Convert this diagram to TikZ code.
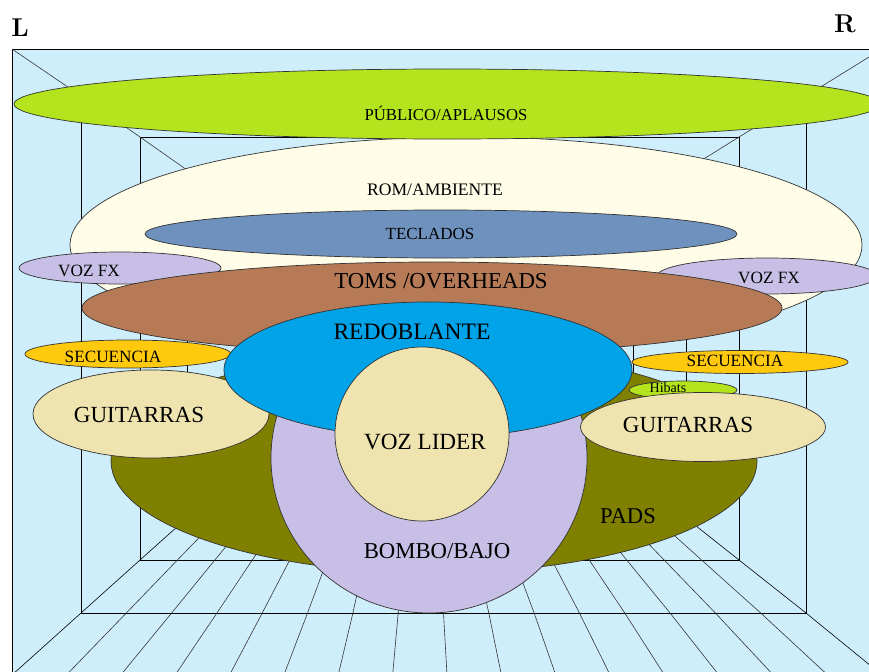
\documentclass[tikz,border=0pt]{standalone}
\usepackage{fontspec}
\newfontfamily\labelfont{Liberation Serif}
\usetikzlibrary{shapes.geometric}

\definecolor{roomblue}{RGB}{207,238,252}
\definecolor{lime}{RGB}{180,228,30}
\definecolor{ivory}{RGB}{255,253,232}
\definecolor{steel}{RGB}{110,145,190}
\definecolor{lavender}{RGB}{200,191,230}
\definecolor{clay}{RGB}{182,122,87}
\definecolor{drumblue}{RGB}{0,162,232}
\definecolor{amber}{RGB}{255,201,14}
\definecolor{wheat}{RGB}{239,228,176}
\definecolor{olive}{RGB}{128,128,0}

\begin{document}
\begin{tikzpicture}[x=0.03cm, y=-0.03cm,
  zone/.style={ellipse, draw=black!80, line width=0.6pt, inner sep=0pt},
  txt/.style={inner sep=0pt, font=\labelfont\fontsize{#1}{#1}\selectfont}]
\useasboundingbox (0,0) rectangle (869,671);

\begin{scope}
\clip (0,0) rectangle (869,671);
% room
\fill [roomblue] (12,49) rectangle (890,680);
\draw [line width=0.6pt] (12,49) rectangle (882,675);
\draw [line width=0.5pt] (81,96) rectangle (806,613);
\draw [line width=0.5pt] (140,137) rectangle (739,560);
\draw [line width=0.5pt] (187,170) rectangle (686,518);
\draw [line width=0.5pt] (252,208) rectangle (633,472);
\draw [black!80, line width=0.5pt] (12,49) -- (81,96) -- (140,137) -- (187,170) -- (252,208);
\draw [black!80, line width=0.5pt] (882,49) -- (806,96) -- (739,137) -- (686,170) -- (633,208);
\draw [line width=0.5pt] (12,675) -- (81,613) -- (140,560) -- (187,518) -- (252,472);
\draw [line width=0.5pt] (882,675) -- (806,613) -- (739,560) -- (686,518) -- (633,472);
\foreach \i in {1,...,15}
  \draw [black!80, line width=0.5pt] ({12+870*\i/16},675) -- ({81+725*\i/16},613) -- ({140+599*\i/16},560)
    -- ({187+499*\i/16},518) -- ({252+381*\i/16},472);

\node (amb) at (466,245) [zone, fill=ivory, minimum width=23.76cm, minimum height=6.48cm]{};
\node (pub) at (447,104) [zone, fill=lime, minimum width=25.98cm, minimum height=2.1cm]{};
\node (tec) at (441,234) [zone, fill=steel, minimum width=17.76cm, minimum height=1.44cm]{};
\node (fx-L) at (120,268) [zone, fill=lavender, minimum width=6.06cm, minimum height=0.96cm]{};
\node (fx-R) at (767,276) [zone, fill=lavender, minimum width=6.6cm, minimum height=1.08cm]{};
\node (toms) at (432,308) [zone, fill=clay, minimum width=21cm, minimum height=2.76cm]{};
\node (pads) at (434,461) [zone, fill=olive, minimum width=19.38cm, minimum height=6.72cm]{};
\node (bombo) at (429,458) [zone, fill=lavender, minimum width=9.48cm, minimum height=9.3cm]{};
\node (sec-L) at (128,354) [zone, fill=amber, minimum width=6.18cm, minimum height=0.84cm]{};
\node (sec-R) at (740,362) [zone, fill=amber, minimum width=6.48cm, minimum height=0.69cm]{};
\node (hib) at (683,390) [zone, fill=lime, minimum width=3.24cm, minimum height=0.54cm]{};
\node (gui-L) at (151,414) [zone, fill=wheat, minimum width=7.08cm, minimum height=2.64cm]{};
\node (gui-R) at (703,427) [zone, fill=wheat, minimum width=7.35cm, minimum height=2.07cm]{};
\node (red) at (428,370) [zone, fill=drumblue, minimum width=12.24cm, minimum height=4.08cm]{};
\node (voz) at (422,434) [zone, fill=wheat, minimum width=5.22cm, minimum height=5.22cm]{};
\end{scope}

% labels
\node (L) at (20,28) [inner sep=0pt, font=\bfseries\fontsize{22}{22}\selectfont]{L};
\node (R) at (845,24) [inner sep=0pt, font=\bfseries\fontsize{22}{22}\selectfont]{R};
\node (pub-t) at (446,113) [txt=14.3]{PÚBLICO/APLAUSOS};
\node (amb-t) at (435,190) [txt=15]{ROM/AMBIENTE};
\node (tec-t) at (430,234) [txt=14.5]{TECLADOS};
\node (fx-L-t) at (89,271) [txt=14.7]{VOZ FX};
\node (fx-R-t) at (769,278) [txt=14.7]{VOZ FX};
\node (toms-t) at (441,281) [txt=19.5]{TOMS /OVERHEADS};
\node (red-t) at (412,332) [txt=20.1]{REDOBLANTE};
\node (sec-L-t) at (113,357) [txt=14.7]{SECUENCIA};
\node (sec-R-t) at (735,361) [txt=14.7]{SECUENCIA};
\node (hib-t) at (668,388) [txt=12]{Hibats};
\node (gui-L-t) at (139,415) [txt=19.7]{GUITARRAS};
\node (gui-R-t) at (688,425) [txt=19.7]{GUITARRAS};
\node (voz-t) at (425,442) [txt=19.8]{VOZ LIDER};
\node (pads-t) at (628,516) [txt=19.3]{PADS};
\node (bombo-t) at (437,551) [txt=19.4]{BOMBO/BAJO};
\end{tikzpicture}
\end{document}
